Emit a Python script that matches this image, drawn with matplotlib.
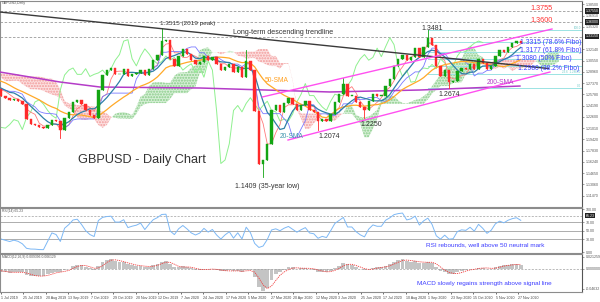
import numpy as np
import pandas as pd
import matplotlib
matplotlib.use("Agg")
import matplotlib.pyplot as plt
from matplotlib.patches import Rectangle

plt.rcParams['font.family'] = ['Liberation Sans', 'DejaVu Sans']

# ---------------- data (3-trading-day bars) ----------------
# estimated closes before the visible window (Apr-Jun 2019), they only feed the indicators
pre_closes = [1.2980, 1.2920, 1.3040, 1.3100, 1.3010, 1.2860, 1.2720, 1.2650, 1.2660,
              1.2620, 1.2720, 1.2740, 1.2700, 1.2570, 1.2720, 1.2710, 1.2650]
# visible closes, Jul 2019 - Nov 2020
closes = [1.2560, 1.2530, 1.2500, 1.2510, 1.2490, 1.2440, 1.2230, 1.2160, 1.2150, 1.2110,
          1.2100, 1.2150, 1.2220, 1.2200, 1.2080, 1.2250, 1.2330, 1.2470, 1.2500, 1.2440,
          1.2350, 1.2280, 1.2240, 1.2640, 1.2850, 1.2920, 1.2950, 1.2860, 1.2860, 1.2940,
          1.2830, 1.2860, 1.2880, 1.2920, 1.2850, 1.2940, 1.3060, 1.3140, 1.3330, 1.3350,
          1.3080, 1.2980, 1.3120, 1.3220, 1.3150, 1.3060, 1.3010, 1.3040, 1.3120, 1.3060,
          1.3100, 1.3010, 1.2920, 1.2970, 1.3010, 1.2890, 1.2960, 1.2820, 1.3050, 1.2920,
          1.2340, 1.1600, 1.1650, 1.1880, 1.2350, 1.2420, 1.2330, 1.2450, 1.2530, 1.2440,
          1.2350, 1.2420, 1.2480, 1.2350, 1.2330, 1.2200, 1.2230, 1.2200, 1.2300, 1.2470,
          1.2580, 1.2730, 1.2560, 1.2560, 1.2470, 1.2400, 1.2350, 1.2480, 1.2580, 1.2560,
          1.2560, 1.2700, 1.2790, 1.2980, 1.3080, 1.3140, 1.3060, 1.3100, 1.3230, 1.3110,
          1.3250, 1.3380, 1.3280, 1.2980, 1.2830, 1.2920, 1.2750, 1.2760, 1.2910, 1.2950,
          1.2940, 1.3000, 1.2940, 1.3080, 1.3020, 1.2930, 1.2980, 1.3120, 1.3200, 1.3180,
          1.3250, 1.3300, 1.3330, 1.3310]
wick_idx = [14, 38, 58, 62, 75, 81, 86, 101, 106]
wick_val = [1.1959, 1.3515, 1.3200, 1.1409, 1.2074, 1.2813, 1.2250, 1.3482, 1.2674]

sma200_x = [-0.3, 13.9, 23.4, 47.1, 77.8, 99.2, 122.8]
sma200_y = [1.2893, 1.2752, 1.2681, 1.2667, 1.2611, 1.2639, 1.2695]

trend_x = [-0.3, 129.5]
trend_y = [1.3741, 1.2943]
chan_up_x = [61.8, 130.4]
chan_up_y = [1.2540, 1.3501]
chan_lo_x = [67.9, 129.9]
chan_lo_y = [1.1932, 1.2893]

fib_start = 101
fib_levels = [1.3481, 1.3315, 1.3177, 1.3080, 1.2980, 1.2864, 1.2674]
fib_tags = ["100.0", "", "", "", "", "23.6  1.28650", "0.0"]
res_levels = [1.3755, 1.3600, 1.3390]

price_ticks = [1.3850, 1.3691, 1.3532, 1.3214, 1.3055, 1.2896, 1.2737, 1.2578,
               1.2419, 1.2260, 1.2101, 1.1942, 1.1783, 1.1624, 1.1465, 1.1306, 1.1147]
price_boxes = [1.3755, 1.3600, 1.3400]
box_texts = ["1.37550", "1.36000", "1.33150"]

date_labels = ["1 Jul 2019", "25 Jul 2019", "20 Aug 2019", "13 Sep 2019", "7 Oct 2019",
               "29 Oct 2019", "20 Nov 2019", "12 Dec 2019", "7 Jan 2020", "24 Jan 2020",
               "17 Feb 2020", "5 Mar 2020", "27 Mar 2020", "20 Apr 2020", "12 May 2020",
               "3 Jun 2020", "25 Jun 2020", "17 Jul 2020", "10 Aug 2020", "1 Sep 2020",
               "23 Sep 2020", "15 Oct 2020", "5 Nov 2020", "27 Nov 2020"]

# ---------------- derived ----------------
npre = len(pre_closes)
c_all = pd.Series(pre_closes + closes)
o_all = c_all.shift(1).bfill()
hi = np.maximum(o_all, c_all).copy()
lo = np.minimum(o_all, c_all).copy()
for k, v in zip(wick_idx, wick_val):
    j = k + npre
    if v > c_all[j]:
        hi[j] = max(hi[j], v)
    else:
        lo[j] = min(lo[j], v)
x_all = np.arange(len(c_all)) - npre

tenkan = (hi.rolling(3, min_periods=1).max() + lo.rolling(3, min_periods=1).min()) / 2
kijun = (hi.rolling(9, min_periods=1).max() + lo.rolling(9, min_periods=1).min()) / 2
spanA = ((tenkan + kijun) / 2)
spanB = (hi.rolling(17, min_periods=1).max() + lo.rolling(17, min_periods=1).min()) / 2
shift = 9
sma20 = c_all.rolling(7, min_periods=1).mean()
sma50 = c_all.rolling(17, min_periods=1).mean()

d = c_all.diff().fillna(0)
up = d.clip(lower=0).ewm(alpha=1/5, adjust=False).mean()
dn = (-d.clip(upper=0)).ewm(alpha=1/5, adjust=False).mean()
rsi = 100 - 100 / (1 + up / dn.replace(0, 1e-9))
macd = c_all.ewm(span=4, adjust=False).mean() - c_all.ewm(span=9, adjust=False).mean()
signal = macd.rolling(3, min_periods=1).mean()

vis = x_all >= 0
c = c_all[vis].reset_index(drop=True)
o = o_all[vis].reset_index(drop=True)
hv = hi[vis].reset_index(drop=True)
lv_ = lo[vis].reset_index(drop=True)
n = len(c)

# ---------------- figure ----------------
W, H = 600, 302
fig = plt.figure(figsize=(6, 3.02), dpi=100)
fig.patch.set_facecolor('white')

def fy(py):
    return 1 - py / H

px_per_bar = 4.224
x0 = -1.2 / px_per_bar
xlim = (x0, x0 + 582 / px_per_bar)
def bx(px):
    return x0 + px / px_per_bar

ax = fig.add_axes([0, fy(207), 582 / W, 206 / H])
axr = fig.add_axes([0, fy(253), 582 / W, 45 / H])
axm = fig.add_axes([0, fy(292), 582 / W, 38 / H])

p_top = 1.3911 - 0.0014134 * 1
p_bot = 1.3911 - 0.0014134 * 207
ax.set_xlim(*xlim)
ax.set_ylim(p_bot, p_top)

xa = x_all + shift
ax.fill_between(xa, spanA, spanB, where=spanA >= spanB, interpolate=True,
                facecolor='#d6efd6', edgecolor='#88cc88', hatch='......', linewidth=0, zorder=1)
ax.fill_between(xa, spanA, spanB, where=spanA < spanB, interpolate=True,
                facecolor='#fce0e0', edgecolor='#f29a9a', hatch='......', linewidth=0, zorder=1)

for lvl in res_levels:
    ax.axhline(lvl, color='#9a9a9a', lw=0.6, ls=(0, (3, 2)), zorder=1)
for lvl, tag in zip(fib_levels, fib_tags):
    ax.plot([fib_start, xlim[1]], [lvl, lvl], color='#9be3e3', lw=0.7, zorder=1)
    if tag:
        ax.text(xlim[1] - 0.3, lvl, tag, fontsize=2.2, color='#70c8c8', ha='right', va='bottom')

ax.plot(sma200_x, sma200_y, color='#b43cc8', lw=1.1, zorder=3)
ax.plot(x_all - shift, c_all, color='#8ff08f', lw=0.7, zorder=2)
ax.plot(x_all, tenkan, color='#ff7a7a', lw=0.6, zorder=2)
ax.plot(x_all, kijun, color='#7a7aff', lw=0.6, zorder=2)
ax.plot(x_all, sma50, color='#ffa928', lw=0.9, zorder=3)
ax.plot(x_all, sma20, color='#2f7fa8', lw=0.9, zorder=3)

for i in range(n):
    col = '#13a513' if c[i] >= o[i] else '#ff2a2a'
    ax.plot([i, i], [lv_[i], hv[i]], color=col, lw=0.6, zorder=4)
    b0 = min(o[i], c[i]); bh = max(abs(c[i] - o[i]), 0.0004)
    ax.add_patch(Rectangle((i - 0.28, b0), 0.56, bh, facecolor=col, edgecolor=col, lw=0.3, zorder=4))

ax.plot(trend_x, trend_y, color='#3a3a3a', lw=1.0, zorder=5)
ax.plot(chan_up_x, chan_up_y, color='#ff50f0', lw=1.0, zorder=5)
ax.plot(chan_lo_x, chan_lo_y, color='#ff50f0', lw=1.0, zorder=5)

ax.yaxis.tick_right()
ax.set_yticks(price_ticks)
ax.set_yticklabels([f"{t:.5f}" for t in price_ticks])
ax.tick_params(axis='y', labelsize=2.6, colors='#555555', length=1.5, width=0.4, pad=1)
ax.set_xticks([])
for pv, s in zip(price_boxes, box_texts):
    ax.annotate(s, xy=(1.0, pv), xycoords=('axes fraction', 'data'), xytext=(2.5, 0),
                textcoords='offset points', fontsize=2.6, color='white', va='center',
                bbox=dict(boxstyle='square,pad=0.15', facecolor='#222222', edgecolor='none'),
                annotation_clip=False)

# RSI
axr.set_xlim(*xlim)
axr.set_ylim(-2, 103)
for lvl in (70, 50, 30):
    axr.axhline(lvl, color='#a0a0a0', lw=0.6)
axr.axhline(85, color='#a0a0a0', lw=0.5, ls=(0, (3, 2)))
axr.plot(x_all, rsi, color='#7db8f5', lw=0.7)
axr.yaxis.tick_right()
axr.set_yticks([100, 70, 50, 30, 0])
axr.set_yticklabels(["100.00", "70.00", "50.00", "30.00", "0.00"])
axr.tick_params(axis='y', labelsize=2.6, colors='#555555', length=1.5, width=0.4, pad=1)
axr.set_xticks([])
axr.annotate("65.23", xy=(1.0, 85), xycoords=('axes fraction', 'data'), xytext=(2.5, 0),
             textcoords='offset points', fontsize=2.6, color='white', va='center',
             bbox=dict(boxstyle='square,pad=0.15', facecolor='#222222', edgecolor='none'),
             annotation_clip=False)

# MACD
axm.set_xlim(*xlim)
mv = macd[vis]
k = max(-mv.min() / 22, mv.max() / 14) * 1.02
axm.set_ylim(-23 * k, 15 * k)
axm.bar(x_all, macd, width=0.9, color='#c4c4c4', zorder=2)
axm.plot(x_all, signal, color='#f04040', lw=0.6, ls=(0, (1.5, 1)), zorder=3)
axm.axhline(0, color='#a0a0a0', lw=0.5, ls=(0, (3, 2)))
axm.yaxis.tick_right()
axm.set_yticks([12 * k, 0, -20 * k])
axm.set_yticklabels(["0.021259", "0.000000", "-0.04632"])
axm.tick_params(axis='y', labelsize=2.6, colors='#555555', length=1.5, width=0.4, pad=1)

date_pos = [bx(0.7 + 22.5 * j) for j in range(len(date_labels))]
axm.set_xticks(date_pos)
axm.set_xticklabels(date_labels, fontsize=2.6, color='#444444', ha='left')
axm.tick_params(axis='x', length=1.5, width=0.4, pad=1.5)

for a in (ax, axr, axm):
    for s in a.spines.values():
        s.set_color('#8c8c8c'); s.set_linewidth(0.8)
    a.spines['right'].set_color('#555555')

# ---------------- annotations ----------------
def T(px, py, s, **kw):
    fig.text(px / W, fy(py), s, **kw)

T(2, 3, "GBPUSD,Daily", fontsize=2.6, color='#555555', va='center')
T(78, 160, "GBPUSD - Daily Chart", fontsize=9.2, color='#333333', va='center')
T(160, 24, "1.3515 (2019 peak)", fontsize=4.6, color='#333333', va='center')
T(233, 33, "Long-term descending trendline", fontsize=5.1, color='#333333', va='center')
T(421, 28, "1.3481", fontsize=5.0, color='#333333', va='center')
T(530, 8, "1.3755", fontsize=5.2, color='#ff3030', va='center')
T(530, 20, "1.3600", fontsize=5.2, color='#ff3030', va='center')
T(520, 43, "1.3315 (78.6% Fibo)", fontsize=4.9, color='#3c3cff', va='center')
T(520, 51, "1.3177 (61.8% Fibo)", fontsize=4.9, color='#3c3cff', va='center')
T(516, 58, "1.3080 (50% Fibo)", fontsize=4.9, color='#3c3cff', va='center')
T(518, 68, "1.2980 (38.2% Fibo)", fontsize=4.9, color='#3c3cff', va='center')
T(487, 82, "200-SMA", fontsize=4.8, color='#b43cc8', va='center')
T(438, 95, "1.2674", fontsize=5.0, color='#333333', va='center')
T(265, 80, "50-SMA", fontsize=4.8, color='#ffa020', va='center')
T(280, 137, "20-SMA", fontsize=4.8, color='#3f95ad', va='center')
T(318, 137, "1.2074", fontsize=5.0, color='#333333', va='center')
T(360, 124, "1.2250", fontsize=5.0, color='#333333', va='center')
T(235, 187, "1.1409 (35-year low)", fontsize=5.0, color='#333333', va='center')
T(2, 211, "RSI(14) 65.23", fontsize=2.4, color='#555555', va='center')
T(426, 245, "RSI rebounds, well above 50 neutral mark", fontsize=4.6, color='#3c3cff', va='center')
T(2, 257, "MACD(12,26,9) 0.009396 0.006129", fontsize=2.4, color='#555555', va='center')
T(417, 283, "MACD slowly regains strength above signal line", fontsize=4.6, color='#3c3cff', va='center')

fig.savefig("out.png", dpi=100)
